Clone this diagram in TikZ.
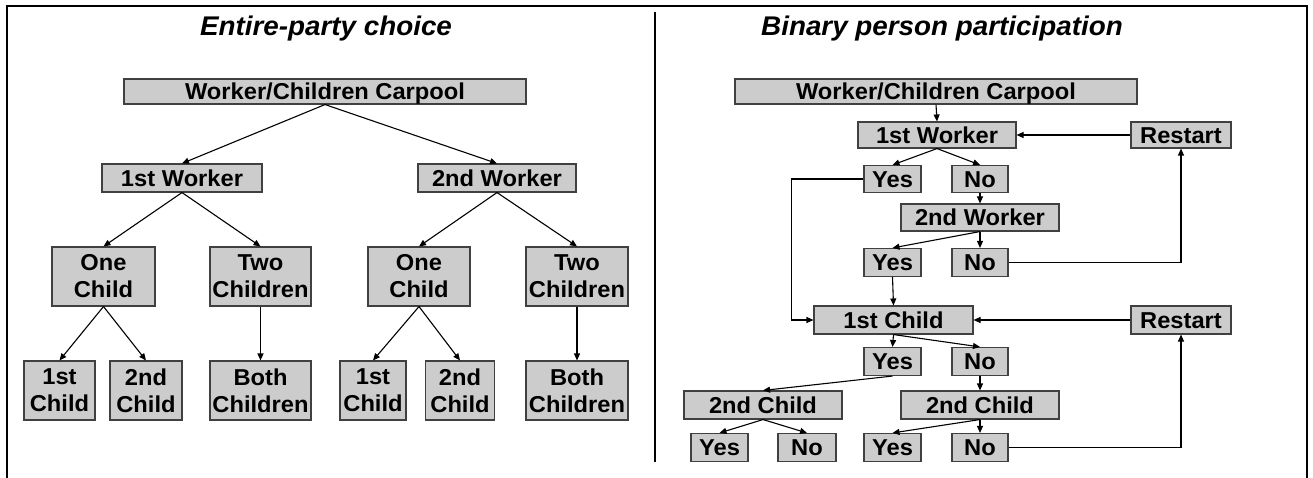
\documentclass[tikz,border=0pt]{standalone}
\usepackage{fontspec}
\setmainfont{Liberation Sans}[FakeStretch=1.03]
\usetikzlibrary{arrows.meta}

\begin{document}
\begin{tikzpicture}[x=1pt,y=-1pt,
  box/.style={draw=black!75, fill=gray!40, line width=1.1pt, inner sep=0pt,
    font=\fontsize{23}{27}\selectfont\bfseries, text height=16.4pt, text depth=0pt},
  twobox/.style={draw=black!75, fill=gray!40, line width=1.1pt, inner sep=0pt,
    font=\fontsize{23}{27}\selectfont\bfseries, align=center},
  paneltitle/.style={font=\fontsize{27}{32}\selectfont\bfseries\itshape, anchor=base, inner sep=0pt},
  arr/.style={-{Triangle[length=7pt,width=6pt]}, line width=1.1pt},
  frame/.style={line width=2.2pt}]

\useasboundingbox (0,0) rectangle (1313,478);

% outer frame (open at the bottom) and panel divider
\draw[frame] (7,478) -- (7,6) -- (1307,6) -- (1307,478);
\draw[frame] (655,12) -- (655,462);

% ---------- left panel: entire-party choice ----------
\node[paneltitle] (t1) at (326,36) {Entire-party choice};

\node[box, minimum width=402pt, minimum height=25pt] (wcc1) at (325,91.5) {Worker/Children Carpool};
\node[box, minimum width=160pt, minimum height=28pt] (w1a) at (182,178) {1st Worker};
\node[box, minimum width=158pt, minimum height=28pt] (w1b) at (497,178) {2nd Worker};

\node[twobox, minimum width=103pt, minimum height=59pt] (oc1) at (103.5,276.5) {One\\Child};
\node[twobox, minimum width=101pt, minimum height=59pt] (tc1) at (260.5,276.5) {Two\\Children};
\node[twobox, minimum width=102pt, minimum height=59pt] (oc2) at (419,276.5) {One\\Child};
\node[twobox, minimum width=102pt, minimum height=59pt] (tc2) at (577,276.5) {Two\\Children};

\node[twobox, minimum width=71pt, minimum height=59pt] (c1a) at (59.5,390.5) {1st\\Child};
\node[twobox, minimum width=72pt, minimum height=59pt] (c2a) at (146,390.5) {2nd\\Child};
\node[twobox, minimum width=101pt, minimum height=59pt] (bc1) at (260.5,390.5) {Both\\Children};
\node[twobox, minimum width=66pt, minimum height=59pt] (c1b) at (373,390.5) {1st\\Child};
\node[twobox, minimum width=69pt, minimum height=59pt] (c2b) at (460,390.5) {2nd\\Child};
\node[twobox, minimum width=102pt, minimum height=59pt] (bc2) at (577,390.5) {Both\\Children};

\draw[arr] (wcc1.south) -- (w1a.north);
\draw[arr] (wcc1.south) -- (w1b.north);
\draw[arr] (w1a.south) -- (oc1.north);
\draw[arr] (w1a.south) -- (tc1.north);
\draw[arr] (w1b.south) -- (oc2.north);
\draw[arr] (w1b.south) -- (tc2.north);
\draw[arr] (oc1.south) -- (c1a.north);
\draw[arr] (oc1.south) -- (c2a.north);
\draw[arr] (tc1.south) -- (bc1.north);
\draw[arr] (oc2.south) -- (c1b.north);
\draw[arr] (oc2.south) -- (c2b.north);
\draw[arr] (tc2.south) -- (bc2.north);

% ---------- right panel: binary person participation ----------
\node[paneltitle] (t2) at (942,36) {Binary person participation};

\node[box, minimum width=402pt, minimum height=25pt] (wcc2) at (936,91.5) {Worker/Children Carpool};
\node[box, minimum width=158pt, minimum height=26pt] (w2a) at (937,135) {1st Worker};
\node[box, minimum width=100pt, minimum height=26pt] (rs1) at (1181,135) {Restart};
\node[box, minimum width=57pt, minimum height=27pt] (y1) at (892.5,179) {Yes};
\node[box, minimum width=56pt, minimum height=27pt] (n1) at (980,179) {No};
\node[box, minimum width=158pt, minimum height=27pt] (w2b) at (980,217.5) {2nd Worker};
\node[box, minimum width=57pt, minimum height=28pt] (y2) at (892.5,262.5) {Yes};
\node[box, minimum width=56pt, minimum height=28pt] (n2) at (980,262.5) {No};
\node[box, minimum width=159pt, minimum height=28pt] (ch1) at (893.5,320) {1st Child};
\node[box, minimum width=100pt, minimum height=28pt] (rs2) at (1181,320) {Restart};
\node[box, minimum width=57pt, minimum height=28pt] (y3) at (892.5,361.5) {Yes};
\node[box, minimum width=56pt, minimum height=28pt] (n3) at (980,361.5) {No};
\node[box, minimum width=158pt, minimum height=28pt] (ch2a) at (763,405) {2nd Child};
\node[box, minimum width=158pt, minimum height=28pt] (ch2b) at (980,405) {2nd Child};
\node[box, minimum width=57pt, minimum height=28pt] (y4a) at (719.5,447.5) {Yes};
\node[box, minimum width=58pt, minimum height=28pt] (n4a) at (807,447.5) {No};
\node[box, minimum width=57pt, minimum height=28pt] (y4b) at (892.5,447.5) {Yes};
\node[box, minimum width=56pt, minimum height=28pt] (n4b) at (980,447.5) {No};

\draw[arr] (wcc2.south) -- (w2a.north);
\draw[arr] (rs1.west) -- (w2a.east);
\draw[arr] (w2a.south) -- (y1.north);
\draw[arr] (w2a.south) -- (n1.north);
\draw[arr] (y1.west) -- ++(-72,0) |- (ch1.west);
\draw[arr] (n1.south) -- (w2b.north);
\draw[arr] (w2b.south) -- (y2.north);
\draw[arr] (w2b.south) -- (n2.north);
\draw[arr] (n2.east) -| (rs1.south);
\draw[arr] (y2.south) -- (ch1.north);
\draw[arr] (rs2.west) -- (ch1.east);
\draw[arr] (ch1.south) -- (y3.north);
\draw[arr] (ch1.south) -- (n3.north);
\draw[arr] (y3.south) -- (ch2a.north);
\draw[arr] (n3.south) -- (ch2b.north);
\draw[arr] (ch2a.south) -- (y4a.north);
\draw[arr] (ch2a.south) -- (n4a.north);
\draw[arr] (ch2b.south) -- (y4b.north);
\draw[arr] (ch2b.south) -- (n4b.north);
\draw[arr] (n4b.east) -| (rs2.south);

\end{tikzpicture}
\end{document}
